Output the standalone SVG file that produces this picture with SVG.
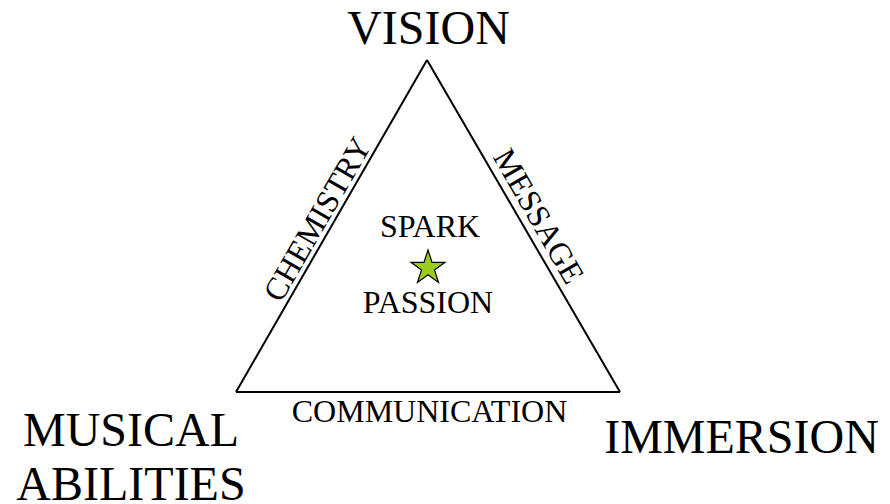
<svg xmlns="http://www.w3.org/2000/svg" width="890" height="504" viewBox="0 0 890 504" font-family="'Liberation Serif', 'Times New Roman', serif">
<style>
text{font-family:'Liberation Serif','Times New Roman',serif;fill:#000;text-anchor:middle}
.big{font-size:48px}
.mid{font-size:32px}
.edge{fill:none;stroke:#000;stroke-width:2}
</style>
<rect width="890" height="504" fill="#fff"/>
<g id="connectors">
<line id="edge-left" class="edge" x1="236" y1="392" x2="427" y2="60"/>
<line id="edge-right" class="edge" x1="427" y1="60" x2="620" y2="392"/>
<line id="edge-bottom" class="edge" x1="236" y1="392" x2="620" y2="392"/>
<text class="mid" transform="translate(326.5,224.5) rotate(-60)">CHEMISTRY</text>
<text class="mid" transform="translate(529.5,221.5) rotate(60)">MESSAGE</text>
<text class="mid" x="429.5" y="422">COMMUNICATION</text>
</g>
<g id="vision"><text class="big" x="428.5" y="44">VISION</text></g>
<g id="musical"><text class="big" x="131" y="446">MUSICAL</text><text class="big" x="131" y="500">ABILITIES</text></g>
<g id="immersion"><text class="big" x="741.5" y="453">IMMERSION</text></g>
<g id="center">
<text class="mid" x="430" y="237">SPARK</text>
<polygon points="428,250 432,262.3 445,262.3 434.5,270 438.5,282.5 428,274.7 417.5,282.5 421.5,270 411,262.3 424,262.3" fill="#9acd1e" stroke="#000" stroke-width="1.2"/>
<text class="mid" x="428" y="313">PASSION</text>
</g>
</svg>
